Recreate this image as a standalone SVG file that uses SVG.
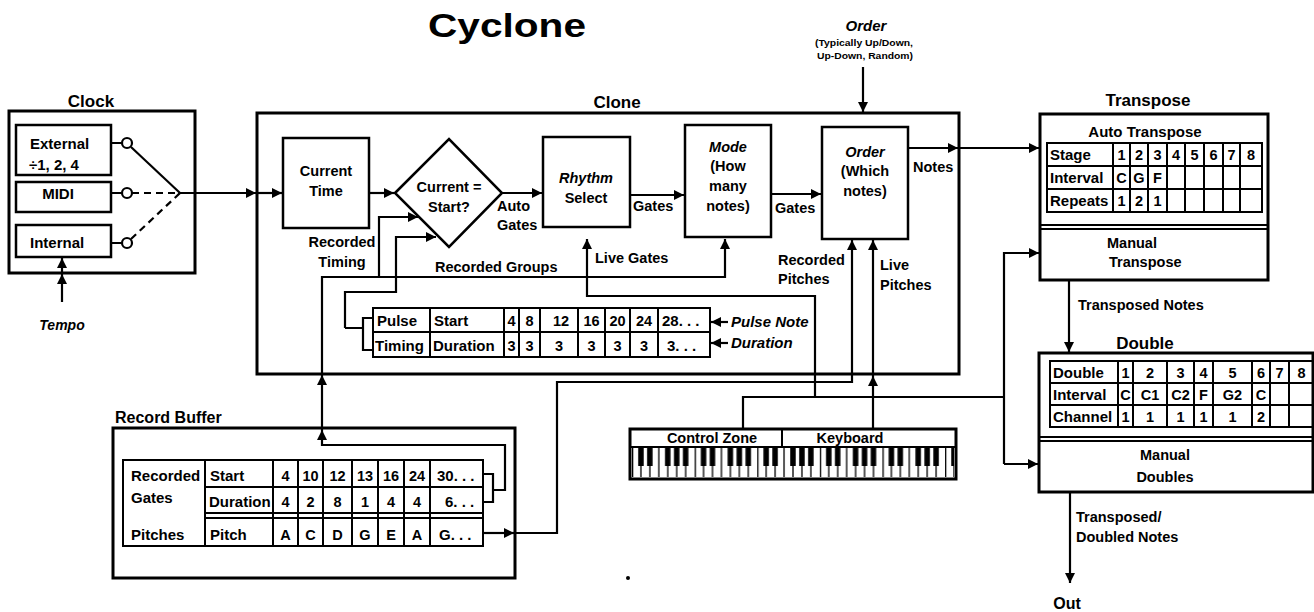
<svg xmlns="http://www.w3.org/2000/svg" width="1314" height="612" viewBox="0 0 1314 612">
<style>
text{font-family:"Liberation Sans",Arial,sans-serif;font-weight:bold;font-size:14.5px;fill:#000}
.h{font-size:17px}
.v{font-size:15px}
.f34{font-size:33px}
.f8{font-size:8.5px}
.f16{font-size:16px}
.f14{font-size:14px}
.i{font-style:italic}
.c{text-anchor:middle}
.box{fill:#fff;stroke:#000;stroke-width:3}
.ib{fill:#fff;stroke:#000;stroke-width:2.5}
.tb{fill:none;stroke:#000;stroke-width:2}
.ln{fill:none;stroke:#000;stroke-width:2.2}
.ar{fill:none;stroke:#000;stroke-width:2.2;marker-end:url(#ah)}
.dash{stroke-dasharray:7 5}
</style>
<defs>
<marker id="ah" viewBox="0 0 10 10" refX="10" refY="5" markerWidth="10" markerHeight="10" markerUnits="userSpaceOnUse" orient="auto"><path d="M0,0 L10,5 L0,10 Z" fill="#000"/></marker>
<pattern id="keys" x="632" y="448" width="62.61" height="29" patternUnits="userSpaceOnUse">
<rect width="62.61" height="29" fill="#fff"/>
<path d="M0.65,0V29M8.94,0V29M17.89,0V29M26.83,0V29M35.78,0V29M44.72,0V29M53.67,0V29" stroke="#000" stroke-width="1.3"/>
<g fill="#000"><rect x="6.2" y="0" width="5.5" height="18"/><rect x="15.1" y="0" width="5.5" height="18"/><rect x="33" y="0" width="5.5" height="18"/><rect x="41.97" y="0" width="5.5" height="18"/><rect x="50.9" y="0" width="5.5" height="18"/></g>
</pattern>
</defs>
<rect width="1314" height="612" fill="#fff"/>
<text x="507" y="37" class="c f34" textLength="158" lengthAdjust="spacingAndGlyphs">Cyclone</text>

<g id="clock">
<text x="91" y="107" class="h c">Clock</text>
<rect x="9" y="111" width="186" height="162" class="box"/>
<rect x="16" y="125" width="95" height="50" class="ib"/>
<text x="30" y="149" class="v">External</text>
<text x="29" y="170" class="v">÷1, 2, 4</text>
<rect x="16" y="182" width="95" height="30" class="ib"/>
<text x="58" y="199" class="v c">MIDI</text>
<rect x="16" y="225" width="95" height="32" class="ib"/>
<text x="30" y="248" class="v">Internal</text>
<g class="ln">
<path d="M111,143H122M111,193H122M111,243H122"/>
<circle cx="127" cy="143" r="5"/><circle cx="127" cy="193" r="5"/><circle cx="127" cy="243" r="5"/>
<path d="M131,147L180,193"/>
<path d="M132,193H180M131,239L180,193" class="dash"/>
</g>
</g>

<g id="clone">
<text x="617" y="108" class="h c">Clone</text>
<rect x="257" y="113" width="702" height="261" class="box"/>
</g>

<g id="current-time">
<rect x="283" y="138" width="86" height="90" class="ib"/>
<text x="326" y="176" class="c">Current</text>
<text x="326" y="196" class="c">Time</text>
</g>

<g id="current-start">
<polygon points="395,193 449,139 502,193 449,247" class="ib"/>
<text x="449" y="192" class="c">Current =</text>
<text x="449" y="212" class="c">Start?</text>
</g>

<g id="rhythm-select">
<rect x="543" y="137" width="87" height="90" class="ib"/>
<text x="586" y="183" class="c i">Rhythm</text>
<text x="586" y="203" class="c">Select</text>
</g>

<g id="mode">
<rect x="685" y="125" width="86" height="112" class="ib"/>
<text x="728" y="152" class="c i">Mode</text>
<text x="728" y="171" class="c">(How</text>
<text x="728" y="191" class="c">many</text>
<text x="728" y="211" class="c">notes)</text>
</g>

<g id="order">
<rect x="822" y="127" width="86" height="112" class="ib"/>
<text x="865" y="157" class="c i">Order</text>
<text x="865" y="176" class="c">(Which</text>
<text x="865" y="196" class="c">notes)</text>
</g>

<g id="order-input">
<text x="866" y="31" class="c i v">Order</text>
<text x="864" y="46" class="c f8" textLength="98" lengthAdjust="spacingAndGlyphs">(Typically Up/Down,</text>
<text x="865" y="59" class="c f8" textLength="96" lengthAdjust="spacingAndGlyphs">Up-Down, Random)</text>
</g>

<g id="pulse-timing">
<rect x="373" y="308" width="337" height="49" fill="#fff" class="tb"/>
<path d="M373,332H710M430,308V357M504,308V357M519,308V357M540,308V357M578,308V357M605,308V357M630,308V357M658,308V357" class="tb"/>
<text x="377" y="326" class="v">Pulse</text>
<text x="375" y="351" class="v">Timing</text>
<text x="434" y="326" class="v">Start</text>
<text x="433" y="351" class="v">Duration</text>
<g class="v c">
<text x="511.5" y="326">4</text><text x="529.5" y="326">8</text><text x="561" y="326">12</text><text x="591.5" y="326">16</text><text x="617.5" y="326">20</text><text x="644" y="326">24</text>
<text x="511.5" y="351">3</text><text x="529.5" y="351">3</text><text x="559" y="351">3</text><text x="591.5" y="351">3</text><text x="617.5" y="351">3</text><text x="644" y="351">3</text>
</g>
<text x="662" y="326" class="v">28. . .</text>
<text x="667" y="351" class="v">3. . .</text>
<text x="731" y="327" class="i v">Pulse Note</text>
<text x="731" y="348" class="i v">Duration</text>
</g>

<g id="record-buffer">
<text x="115" y="423" class="f16">Record Buffer</text>
<rect x="113" y="428" width="402" height="150" class="box"/>
<rect x="123" y="460" width="360" height="86" class="tb"/>
<path d="M205,487H483M205,513H483M205,518H483M205,460V546M273,460V546M298,460V546M323,460V546M352,460V546M378,460V546M404,460V546M430,460V546" class="tb"/>
<text x="131" y="481" class="v">Recorded</text>
<text x="131" y="503" class="v">Gates</text>
<text x="131" y="540" class="v">Pitches</text>
<text x="210" y="481" class="v">Start</text>
<text x="209" y="507" class="v">Duration</text>
<text x="210" y="540" class="v">Pitch</text>
<g class="v c">
<text x="285.5" y="481">4</text><text x="310.5" y="481">10</text><text x="337.5" y="481">12</text><text x="365" y="481">13</text><text x="391" y="481">16</text><text x="417" y="481">24</text>
<text x="285.5" y="507">4</text><text x="310.5" y="507">2</text><text x="337.5" y="507">8</text><text x="365" y="507">1</text><text x="391" y="507">4</text><text x="417" y="507">4</text>
<text x="285.5" y="540">A</text><text x="310.5" y="540">C</text><text x="337.5" y="540">D</text><text x="365" y="540">G</text><text x="391" y="540">E</text><text x="417" y="540">A</text>
</g>
<text x="437" y="481" class="v">30. . .</text>
<text x="445" y="507" class="v">6. . .</text>
<text x="439" y="540" class="v">G. . .</text>
</g>

<g id="keyboard">
<rect x="630" y="429" width="326" height="50" class="box"/>
<rect x="632" y="448" width="322" height="29" fill="url(#keys)"/>
<path d="M630,447H956M782,429V447" class="tb"/>
<text x="712" y="443" class="c">Control Zone</text>
<text x="850" y="443" class="c">Keyboard</text>
</g>

<g id="transpose">
<text x="1148" y="106" class="h c">Transpose</text>
<rect x="1040" y="114" width="228" height="166" class="box"/>
<path d="M1040,225H1268M1040,229H1268" class="tb"/>
<text x="1145" y="137" class="c v">Auto Transpose</text>
<rect x="1047" y="143" width="215" height="69" class="tb"/>
<path d="M1047,166H1262M1047,189H1262M1113,143V212M1130,143V212M1148,143V212M1167,143V212M1185,143V212M1204,143V212M1223,143V212M1240,143V212" class="tb"/>
<text x="1050" y="160" class="v">Stage</text>
<text x="1050" y="183" class="v">Interval</text>
<text x="1050" y="206" class="v">Repeats</text>
<g class="v c">
<text x="1121.5" y="160">1</text><text x="1139" y="160">2</text><text x="1157.5" y="160">3</text><text x="1176" y="160">4</text><text x="1194.5" y="160">5</text><text x="1213.5" y="160">6</text><text x="1231.5" y="160">7</text><text x="1251" y="160">8</text>
<text x="1121.5" y="183">C</text><text x="1139" y="183">G</text><text x="1157.5" y="183">F</text>
<text x="1121.5" y="206">1</text><text x="1139" y="206">2</text><text x="1157.5" y="206">1</text>
</g>
<text x="1107" y="248">Manual</text>
<text x="1109" y="267">Transpose</text>
</g>

<g id="double">
<text x="1145" y="349" class="h c">Double</text>
<rect x="1039" y="353" width="274" height="139" class="box"/>
<path d="M1039,437H1313M1039,441H1313" class="tb"/>
<rect x="1050" y="361" width="270" height="66" class="tb"/>
<path d="M1050,383H1314M1050,405H1314M1118,361V427M1133,361V427M1167,361V427M1194,361V427M1213,361V427M1252,361V427M1270,361V427M1289,361V427" class="tb"/>
<text x="1053" y="378" class="v">Double</text>
<text x="1053" y="400" class="v">Interval</text>
<text x="1053" y="422" class="v">Channel</text>
<g class="v c">
<text x="1125.5" y="378">1</text><text x="1150" y="378">2</text><text x="1180.5" y="378">3</text><text x="1203.5" y="378">4</text><text x="1232.5" y="378">5</text><text x="1261" y="378">6</text><text x="1279.5" y="378">7</text><text x="1301.5" y="378">8</text>
<text x="1125.5" y="400">C</text><text x="1150" y="400">C1</text><text x="1180.5" y="400">C2</text><text x="1203.5" y="400">F</text><text x="1232.5" y="400">G2</text><text x="1261" y="400">C</text>
<text x="1125.5" y="422">1</text><text x="1150" y="422">1</text><text x="1180.5" y="422">1</text><text x="1203.5" y="422">1</text><text x="1232.5" y="422">1</text><text x="1261" y="422">2</text>
</g>
<text x="1165" y="460" class="c">Manual</text>
<text x="1165" y="482" class="c">Doubles</text>
</g>

<g id="connectors">
<path d="M180,193H256" class="ar"/>
<path d="M257,193H282" class="ar"/>
<path d="M369,193H394" class="ar"/>
<path d="M502,193H542" class="ar"/>
<path d="M630,195H684" class="ar"/>
<path d="M771,194H821" class="ar"/>
<path d="M908,148H958" class="ar"/>
<path d="M958,148H1039" class="ar"/>
<path d="M863,67V112" class="ar"/>
<path d="M62,302V274" class="ar"/>
<path d="M62,274V258" class="ar"/>
<path d="M483,474H493V502H483" class="ln"/>
<path d="M493,490H505V445H322V430" class="ar"/>
<path d="M322,430V375" class="ar"/>
<path d="M322,375V277H725V239" class="ar"/>
<path d="M379,277V217H418" class="ar"/>
<path d="M373,318H363V350H373M363,328H345" class="ln"/>
<path d="M345,328V292H396V237H436" class="ar"/>
<path d="M728,322H711" class="ar"/>
<path d="M728,343H711" class="ar"/>
<path d="M1004,397H743V429" class="ln"/>
<path d="M815,397V296H587V239" class="ar"/>
<path d="M1004,464V253H1039" class="ar"/>
<path d="M1004,464H1038" class="ar"/>
<path d="M873,429V376" class="ar"/>
<path d="M873,376V240" class="ar"/>
<path d="M483,533H514" class="ar"/>
<path d="M514,533H557V382H852V240" class="ar"/>
<path d="M1069,280V352" class="ar"/>
<path d="M1070,492V583" class="ar"/>
<text x="497" y="211">Auto</text>
<text x="497" y="230">Gates</text>
<text x="342" y="247" class="c">Recorded</text>
<text x="342" y="267" class="c">Timing</text>
<text x="435" y="272">Recorded Groups</text>
<text x="595" y="263">Live Gates</text>
<text x="633" y="211">Gates</text>
<text x="775" y="213">Gates</text>
<text x="913" y="172">Notes</text>
<text x="778" y="265">Recorded</text>
<text x="778" y="284">Pitches</text>
<text x="880" y="270">Live</text>
<text x="880" y="290">Pitches</text>
<text x="1078" y="310">Transposed Notes</text>
<text x="1076" y="522">Transposed/</text>
<text x="1076" y="542">Doubled Notes</text>
<text x="1067" y="609" class="c f16">Out</text>
<text x="62" y="330" class="c i f14">Tempo</text>
</g>
<circle cx="628" cy="578" r="2" fill="#000"/>
</svg>
